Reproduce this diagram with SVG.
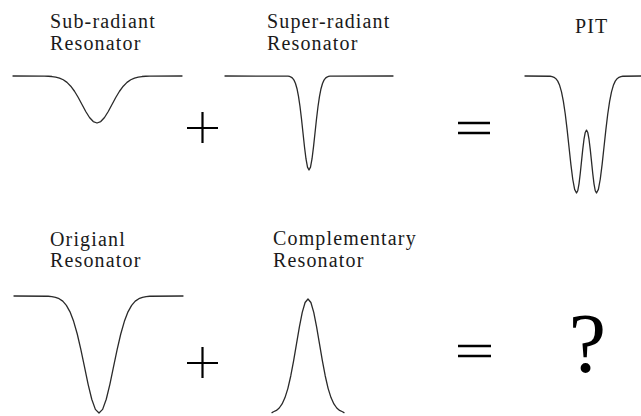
<svg xmlns="http://www.w3.org/2000/svg" width="641" height="416" viewBox="0 0 641 416">
<style>
.lbl{font-family:"Liberation Serif","Times New Roman",serif;font-size:20px;letter-spacing:1.15px;fill:#1a1a1a}
.crv{fill:none;stroke:#2a2a2a;stroke-width:1.3;stroke-linejoin:round;stroke-linecap:round}
.op{stroke:#000;stroke-width:2.2;fill:none}
.q{font-family:"Liberation Serif","Times New Roman",serif;font-size:84px;fill:#000;text-anchor:middle}
</style>
<rect width="641" height="416" fill="#fff"/>
<g id="sub-radiant">
<text class="lbl" x="50" y="28">Sub-radiant</text>
<text class="lbl" x="50" y="50">Resonator</text>
<polyline class="crv" points="13,76 44.5,76.1 48.25,76.24 52,76.52 55.75,77.07 59.5,78.06 63.25,79.74 67,82.36 70.75,86.17 74.5,91.26 78.25,97.52 82,104.51 85.75,111.48 89.5,117.48 93.25,121.55 97,123 100.75,121.55 104.5,117.48 108.25,111.48 112,104.51 115.75,97.52 119.5,91.26 123.25,86.17 127,82.36 130.75,79.74 134.5,78.06 138.25,77.07 142,76.52 145.75,76.24 149.5,76.1 182,76"/>
</g>
<g id="plus-top">
<path class="op" d="M187,128 H218 M202.5,112 V143"/>
</g>
<g id="super-radiant">
<text class="lbl" x="267" y="28">Super-radiant</text>
<text class="lbl" x="267" y="50">Resonator</text>
<polyline class="crv" points="225,76 288,76.21 289.5,76.48 291,77.04 292.5,78.14 294,80.13 295.5,83.48 297,88.72 298.5,96.33 300,106.52 301.5,119.03 303,133.01 304.5,146.95 306,158.96 307.5,167.1 309,170 310.5,167.1 312,158.96 313.5,146.95 315,133.01 316.5,119.03 318,106.52 319.5,96.33 321,88.72 322.5,83.48 324,80.13 325.5,78.14 327,77.04 328.5,76.48 330,76.21 393,76"/>
</g>
<g id="equals-top">
<path class="op" d="M458,123 H490 M458,133 H490" style="stroke-width:2.6"/>
</g>
<g id="pit">
<text class="lbl" x="575" y="33">PIT</text>
<polyline class="crv" points="525,76 550.25,76.26 552.125,76.6 554,77.3 555.875,78.67 557.75,81.14 559.625,85.31 561.5,91.83 563.375,101.31 565.25,113.99 567.125,129.56 569,146.96 570.875,164.31 572.75,179.25 574.625,189.4 576.5,193.04 577.75,190.75 579,183.84 580.25,173.49 581.5,161.35 582.75,149.32 584,139.21 585.25,132.49 586.5,130.15 587.75,132.49 589,139.21 590.25,149.32 591.5,161.35 592.75,173.49 594,183.84 595.25,190.75 596.5,193.04 598.375,189.4 600.25,179.25 602.125,164.31 604,146.96 605.875,129.56 607.75,113.99 609.625,101.31 611.5,91.83 613.375,85.31 615.25,81.14 617.125,78.67 619,77.3 620.875,76.6 622.75,76.26 641,76"/>
</g>
<g id="original">
<text class="lbl" x="50" y="246">Origianl</text>
<text class="lbl" x="50" y="267">Resonator</text>
<polyline class="crv" points="14,296 48.25,296.26 51.875,296.6 55.5,297.3 59.125,298.67 62.75,301.14 66.375,305.31 70,311.83 73.625,321.31 77.25,333.99 80.875,349.56 84.5,366.96 88.125,384.31 91.75,399.25 95.375,409.4 99,413 102.625,409.4 106.25,399.25 109.875,384.31 113.5,366.96 117.125,349.56 120.75,333.99 124.375,321.31 128,311.83 131.625,305.31 135.25,301.14 138.875,298.67 142.5,297.3 146.125,296.6 149.75,296.26 183,296"/>
</g>
<g id="plus-bottom">
<path class="op" d="M187,363 H218 M202.5,347 V378"/>
</g>
<g id="complementary">
<text class="lbl" x="273" y="245">Complementary</text>
<text class="lbl" x="273" y="267">Resonator</text>
<polyline class="crv" points="272,412.6 273.5,411.73 276.4,410.4 279.25,408 282.1,403.93 285,397.58 287.9,388.34 290.75,375.98 293.6,360.81 296.5,343.86 299.4,326.95 302.25,312.4 305.1,302.51 308,299 310.9,302.51 313.75,312.4 316.6,326.95 319.5,343.86 322.4,360.81 325.25,375.98 328.1,388.34 331,397.58 333.9,403.93 336.75,408 339.6,410.4 342.5,411.73 344,412.6"/>
</g>
<g id="equals-bottom">
<path class="op" d="M458,346 H491 M458,356 H491" style="stroke-width:2.6"/>
</g>
<g id="question">
<text class="q" x="587.5" y="372">?</text>
</g>
</svg>
